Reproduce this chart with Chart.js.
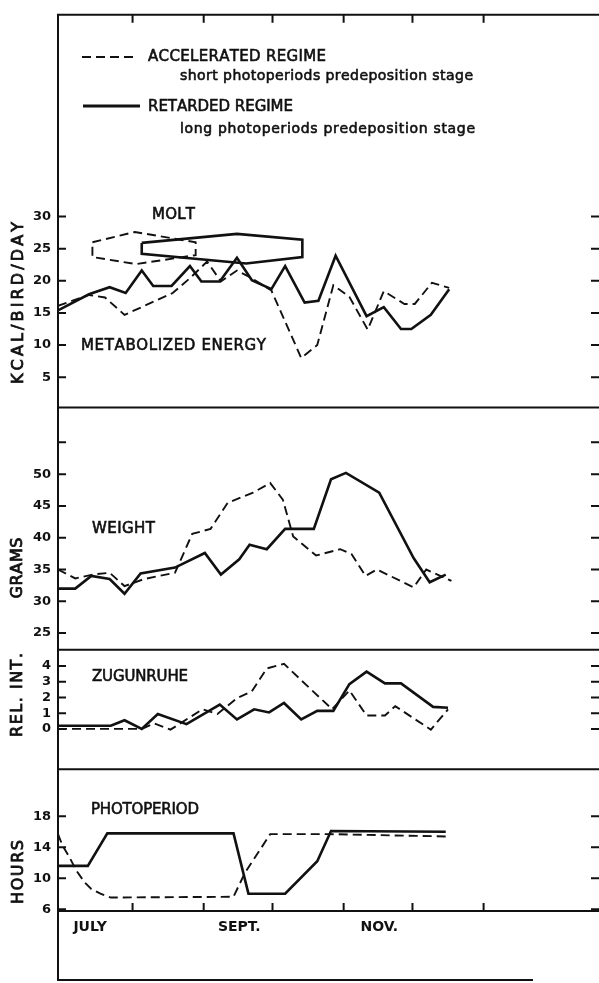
<!DOCTYPE html>
<html>
<head>
<meta charset="utf-8">
<script src="https://cdn.jsdelivr.net/npm/chart.js@4.4.1/dist/chart.umd.min.js"></script>
<style>
  html, body { margin: 0; padding: 0; background: #fff; }
  #wrap { position: relative; width: 599px; height: 983px; }
</style>
</head>
<body>
<div id="wrap"><canvas id="fig" width="599" height="983"></canvas></div>
<script>
// x = days since 1 July
const energyRetDays = [-1.5, 12, 21, 28, 35, 40, 48, 56, 61, 69, 76.5, 83, 91.5, 97.5, 106, 112, 119.5, 133, 140.5, 148, 152.5, 161, 169];
const energyRetKcal = [15.4, 17.9, 19.0, 18.1, 21.6, 19.2, 19.2, 22.3, 19.9, 19.9, 23.6, 20.1, 18.7, 22.3, 16.6, 16.9, 23.9, 14.5, 15.9, 12.5, 12.5, 14.7, 18.7];
const energyAccDays = [-1.5, 12, 19, 27.5, 48.5, 56, 63.5, 69.5, 76.5, 82.5, 91.5, 104.5, 111.5, 118.5, 125.5, 133.5, 140.5, 149.5, 154, 161.5, 169];
const energyAccKcal = [16.1, 17.8, 17.4, 14.7, 18.1, 20.4, 23.0, 19.9, 21.6, 20.5, 18.5, 8.0, 10.0, 19.3, 17.5, 12.4, 18.4, 16.4, 16.4, 19.7, 18.9];

// molt periods, drawn as closed outlines on the energy scale
const moltAccDays = [13.5, 32, 58.5, 58.5, 32.5, 13.5, 13.5];
const moltAccKcal = [26.0, 27.6, 26.0, 24.0, 22.6, 23.7, 26.0];
const moltRetDays = [35, 76.5, 105, 105, 80.5, 35, 35];
const moltRetKcal = [25.9, 27.3, 26.4, 23.7, 22.7, 24.2, 25.9];

const weightRetDays = [-1.5, 6, 13, 21, 27.5, 34.5, 49.5, 62.5, 69.5, 77.5, 82, 89.5, 97.5, 110, 117.5, 124, 138.5, 153.5, 160.5, 167.5];
const weightRetGrams = [32.0, 32.0, 34.0, 33.5, 31.2, 34.4, 35.3, 37.6, 34.2, 36.6, 38.9, 38.2, 41.4, 41.4, 49.2, 50.2, 47.1, 36.8, 33.0, 34.2];
const weightAccDays = [-1.5, 6, 13.5, 21, 27.5, 36, 49.5, 57, 65, 72.5, 83.5, 91, 96.5, 101, 111, 121.5, 126.5, 132.5, 137.5, 153.5, 159, 170];
const weightAccGrams = [35.0, 33.6, 34.2, 34.5, 32.4, 33.5, 34.5, 40.6, 41.4, 45.5, 47.1, 48.6, 46.0, 40.2, 37.2, 38.2, 37.4, 34.0, 35.0, 32.2, 35.0, 33.2];

const zugRetDays = [-1.5, 21.5, 27.5, 35, 42, 54.5, 69, 76.5, 84, 90.5, 97, 104.5, 111.5, 118.5, 125.5, 133, 141, 148, 162, 168.5];
const zugRetInt = [0.2, 0.2, 0.55, 0.0, 0.95, 0.3, 1.55, 0.6, 1.25, 1.05, 1.65, 0.6, 1.15, 1.15, 2.85, 3.65, 2.9, 2.9, 1.4, 1.35];
const zugAccDays = [-1.5, 35, 40.5, 47.5, 61.5, 68, 76.5, 83, 89.5, 97, 104.5, 118, 125.5, 133, 141, 145.5, 161, 168.5];
const zugAccInt = [0, 0, 0.35, -0.05, 1.25, 0.95, 1.95, 2.4, 3.85, 4.15, 3.1, 1.25, 2.45, 0.85, 0.85, 1.45, -0.05, 1.25];

const photoRetDays = [-1.5, 11.5, 20, 75, 81.5, 97.5, 111.5, 117.5, 167.5];
const photoRetHours = [11.6, 11.6, 15.8, 15.8, 8.0, 8.0, 12.2, 16.1, 16.0];
const photoAccDays = [-1.5, 0.5, 3.5, 6.5, 10, 13, 17, 21.5, 75, 80, 91, 116.5, 167.5];
const photoAccHours = [15.7, 14.2, 12.7, 11.0, 9.5, 8.6, 8.0, 7.5, 7.6, 10.7, 15.7, 15.7, 15.4];

// axes
const monthStartDays = [31, 62, 92, 123, 153, 184];
const monthLabelDays = [12.5, 77.5, 138.5];
const monthNames = ['JULY', 'SEPT.', 'NOV.'];
const energyTicks = [5, 10, 15, 20, 25, 30];
const weightTicks = [25, 30, 35, 40, 45, 50, 55];
const weightTickLabels = ['25', '30', '35', '40', '45', '50', ''];
const zugTicks = [0, 1, 2, 3, 4];
const photoTicks = [6, 10, 14, 18];

const INK = '#111';
const pts = (xs, ys) => xs.map((x, i) => ({ x, y: ys[i] }));
const solid = (data, yAxisID) => ({ data, yAxisID, borderColor: INK, borderWidth: 2.6, pointRadius: 0, fill: false });
const dashed = (data, yAxisID) => ({ data, yAxisID, borderColor: INK, borderWidth: 1.9, borderDash: [9, 5], pointRadius: 0, fill: false });

// draws text spread to a given width, letter by letter
function spaced(ctx, text, x, y, width, font, rotate, weight) {
    ctx.save();
    ctx.font = font;
    const chars = [...text];
    const ws = chars.map(c => ctx.measureText(c).width);
    const gap = (width - ws.reduce((a, b) => a + b, 0)) / (chars.length - 1);
    ctx.translate(x, y);
    let cx = 0;
    if (rotate) { ctx.rotate(-Math.PI / 2); cx = -width / 2; ctx.textBaseline = 'middle'; }
    ctx.fillStyle = INK; ctx.strokeStyle = INK; ctx.lineWidth = weight;
    chars.forEach((c, i) => { ctx.fillText(c, cx, 0); ctx.strokeText(c, cx, 0); cx += ws[i] + gap; });
    ctx.restore();
}

const notes = [
    ['ACCELERATED REGIME', 148, 61, 178, 15],
    ['short photoperiods predeposition stage', 180, 80, 293, 14],
    ['RETARDED REGIME', 148, 111, 145, 15],
    ['long photoperiods predeposition stage', 180, 133, 295, 14],
    ['MOLT', 152, 219, 43, 15],
    ['METABOLIZED ENERGY', 81, 350, 185, 15],
    ['WEIGHT', 92, 533, 63, 15],
    ['ZUGUNRUHE', 92, 680.5, 96, 15],
    ['PHOTOPERIOD', 91, 814, 108, 15]
];
const titles = [
    ['KCAL/BIRD/DAY', 19, 303, 162],
    ['GRAMS', 18, 568, 61],
    ['REL. INT.', 17.5, 695, 84],
    ['HOURS', 18.5, 872, 64]
];

const tickSets = { energy: energyTicks, weight: weightTicks, zug: zugTicks, photo: photoTicks };

const framePlugin = {
    id: 'frame',
    afterDatasetsDraw(chart) {
        const ctx = chart.ctx, a = chart.chartArea, xs = chart.scales.x;
        ctx.save();
        ctx.strokeStyle = INK;
        ctx.lineWidth = 2;
        ctx.beginPath();
        ctx.moveTo(a.left, a.top - 1); ctx.lineTo(a.left, 981);
        ctx.moveTo(a.left, a.top); ctx.lineTo(a.right, a.top);
        Object.keys(tickSets).forEach(id => {
            const s = chart.scales[id];
            ctx.moveTo(a.left, s.bottom); ctx.lineTo(a.right, s.bottom);
            tickSets[id].forEach(v => {
                const py = s.getPixelForValue(v);
                ctx.moveTo(a.left, py); ctx.lineTo(a.left + 8, py);
                ctx.moveTo(a.right - 8, py); ctx.lineTo(a.right, py);
            });
        });
        monthStartDays.forEach(d => {
            const px = xs.getPixelForValue(d);
            ctx.moveTo(px, a.top); ctx.lineTo(px, a.top + 8);
            ctx.moveTo(px, a.bottom); ctx.lineTo(px, a.bottom - 8);
        });
        ctx.moveTo(a.left, 980); ctx.lineTo(533, 980);
        ctx.stroke();

        // legend keys
        ctx.setLineDash([9, 5]);
        ctx.beginPath(); ctx.moveTo(82, 57); ctx.lineTo(137, 57); ctx.stroke();
        ctx.setLineDash([]);
        ctx.lineWidth = 3;
        ctx.beginPath(); ctx.moveTo(83, 106); ctx.lineTo(140, 106); ctx.stroke();
        ctx.restore();
    },
    afterDraw(chart) {
        const ctx = chart.ctx;
        notes.forEach(([t, x, y, w, size]) => spaced(ctx, t, x, y, w, size + 'px "DejaVu Sans"', false, 0.6));
        titles.forEach(([t, x, y, w]) => spaced(ctx, t, x, y, w, '16px "DejaVu Sans"', true, 0.8));
    }
};

const tickFont = { family: 'DejaVu Sans', size: 13, weight: 'bold' };
function yAxis(min, max, weight, ticks, labels, order) {
    return {
        type: 'linear', position: 'left', stack: 'panels', stackWeight: weight, weight: order,
        min, max,
        grid: { display: false, drawTicks: false }, border: { display: false },
        afterFit: s => { s.width = 58; },
        afterBuildTicks: s => { s.ticks = ticks.map(v => ({ value: v })); },
        ticks: { padding: 7, color: INK, font: tickFont, autoSkip: false,
                 callback: (v, i) => labels ? labels[i] : String(v) }
    };
}

new Chart(document.getElementById('fig'), {
    type: 'line',
    data: {
        datasets: [
            dashed(pts(energyAccDays, energyAccKcal), 'energy'),
            solid(pts(energyRetDays, energyRetKcal), 'energy'),
            dashed(pts(moltAccDays, moltAccKcal), 'energy'),
            solid(pts(moltRetDays, moltRetKcal), 'energy'),
            dashed(pts(weightAccDays, weightAccGrams), 'weight'),
            solid(pts(weightRetDays, weightRetGrams), 'weight'),
            dashed(pts(zugAccDays, zugAccInt), 'zug'),
            solid(pts(zugRetDays, zugRetInt), 'zug'),
            dashed(pts(photoAccDays, photoAccHours), 'photo'),
            solid(pts(photoRetDays, photoRetHours), 'photo')
        ]
    },
    options: {
        responsive: false,
        animation: false,
        layout: { padding: { top: 7, left: 0, right: 0, bottom: 0 } },
        plugins: { legend: { display: false }, tooltip: { enabled: false } },
        elements: { line: { tension: 0, borderJoinStyle: 'miter' } },
        scales: {
            x: {
                type: 'linear', position: 'bottom', min: -1.5, max: 234.3,
                grid: { display: false, drawTicks: false }, border: { display: false },
                afterFit: s => { s.height = 72; },
                afterBuildTicks: s => { s.ticks = monthLabelDays.map(v => ({ value: v })); },
                ticks: { padding: 8, color: INK, autoSkip: false, maxRotation: 0,
                         font: { family: 'DejaVu Sans', size: 14, weight: 'bold' },
                         callback: (v, i) => monthNames[i] }
            },
            energy: yAxis(0.3, 61.4, 396, energyTicks, null, 4),
            weight: yAxis(22.38, 60.5, 244.5, weightTicks, weightTickLabels, 3),
            zug: yAxis(-2.57, 5.04, 120.5, zugTicks, null, 2),
            photo: yAxis(5.76, 24.09, 143, photoTicks, null, 1)
        }
    },
    plugins: [framePlugin]
});
</script>
</body>
</html>
